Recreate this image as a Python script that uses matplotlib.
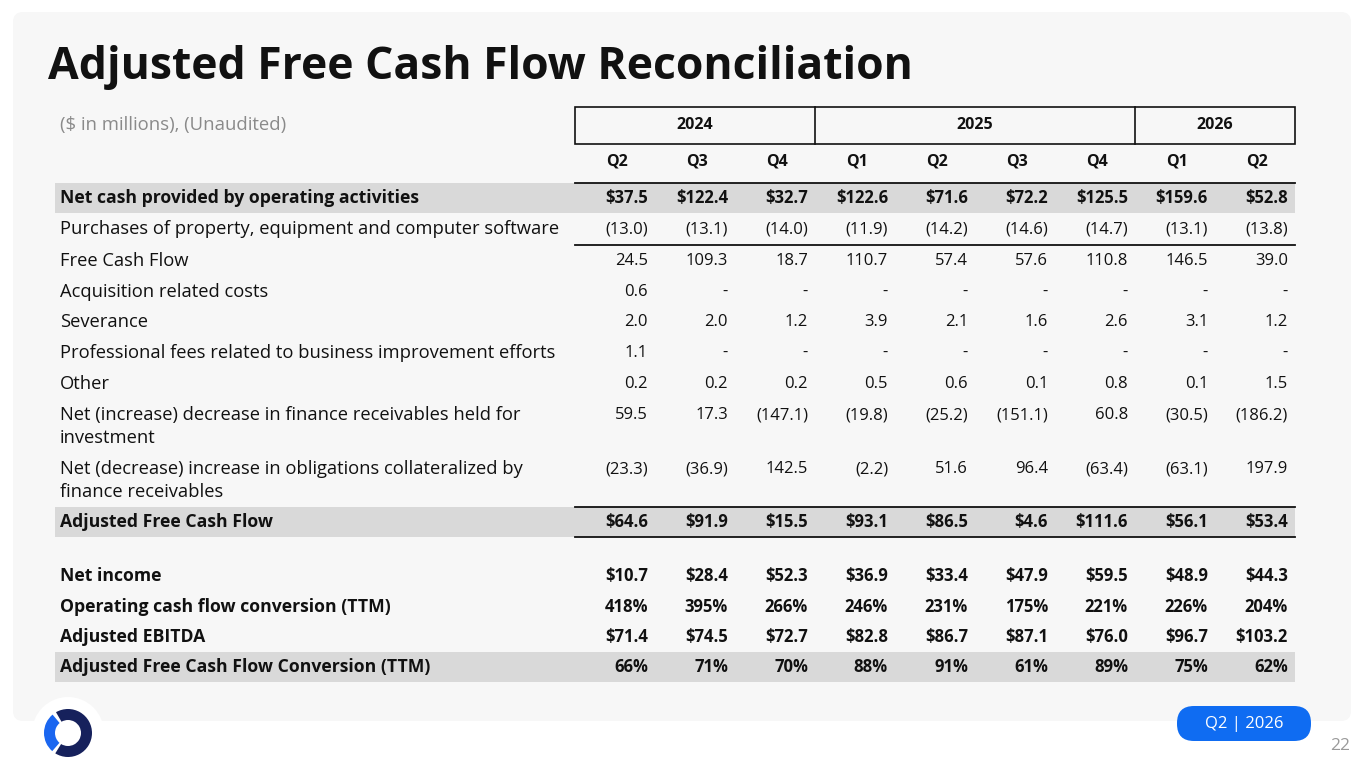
import matplotlib
matplotlib.use("Agg")
import matplotlib.pyplot as plt
from matplotlib.patches import FancyBboxPatch, Rectangle, Circle, Wedge

plt.rcParams['font.family'] = ['Open Sans', 'DejaVu Sans']

title = "Adjusted Free Cash Flow Reconciliation"
subtitle = "($ in millions), (Unaudited)"
years = ["2024", "2025", "2026"]
year_spans = [3, 4, 2]
quarters = ["Q2", "Q3", "Q4", "Q1", "Q2", "Q3", "Q4", "Q1", "Q2"]

net_cash = [37.5, 122.4, 32.7, 122.6, 71.6, 72.2, 125.5, 159.6, 52.8]
capex = [-13.0, -13.1, -14.0, -11.9, -14.2, -14.6, -14.7, -13.1, -13.8]
fcf = [24.5, 109.3, 18.7, 110.7, 57.4, 57.6, 110.8, 146.5, 39.0]
acquisition = [0.6, None, None, None, None, None, None, None, None]
severance = [2.0, 2.0, 1.2, 3.9, 2.1, 1.6, 2.6, 3.1, 1.2]
prof_fees = [1.1, None, None, None, None, None, None, None, None]
other = [0.2, 0.2, 0.2, 0.5, 0.6, 0.1, 0.8, 0.1, 1.5]
fin_receivables = [59.5, 17.3, -147.1, -19.8, -25.2, -151.1, 60.8, -30.5, -186.2]
obligations = [-23.3, -36.9, 142.5, -2.2, 51.6, 96.4, -63.4, -63.1, 197.9]
adj_fcf = [64.6, 91.9, 15.5, 93.1, 86.5, 4.6, 111.6, 56.1, 53.4]
net_income = [10.7, 28.4, 52.3, 36.9, 33.4, 47.9, 59.5, 48.9, 44.3]
ocf_conversion = [418, 395, 266, 246, 231, 175, 221, 226, 204]
adj_ebitda = [71.4, 74.5, 72.7, 82.8, 86.7, 87.1, 76.0, 96.7, 103.2]
adj_fcf_conversion = [66, 71, 70, 88, 91, 61, 89, 75, 62]

# label, values, format, bold, shaded, row centre (px)
rows = [
    ("Net cash provided by operating activities", net_cash, "usd", True, True, 198),
    ("Purchases of property, equipment and computer software", capex, "num", False, False, 229),
    ("Free Cash Flow", fcf, "num", False, False, 261),
    ("Acquisition related costs", acquisition, "num", False, False, 292),
    ("Severance", severance, "num", False, False, 322),
    ("Professional fees related to business improvement efforts", prof_fees, "num", False, False, 353),
    ("Other", other, "num", False, False, 384),
    ("Net (increase) decrease in finance receivables held for\ninvestment", fin_receivables, "num", False, False, 415),
    ("Net (decrease) increase in obligations collateralized by\nfinance receivables", obligations, "num", False, False, 469),
    ("Adjusted Free Cash Flow", adj_fcf, "usd", True, True, 522),
    ("Net income", net_income, "usd", True, False, 576),
    ("Operating cash flow conversion (TTM)", ocf_conversion, "pct", True, False, 607),
    ("Adjusted EBITDA", adj_ebitda, "usd", True, False, 637),
    ("Adjusted Free Cash Flow Conversion (TTM)", adj_fcf_conversion, "pct", True, True, 667),
]


def fmt(v, kind):
    if v is None:
        return "-"
    if kind == "pct":
        return "%d%%" % v
    if kind == "usd":
        return "$%.1f" % v
    if v < 0:
        return "(%.1f)" % -v
    return "%.1f" % v


W, H = 1365, 768
fig = plt.figure(figsize=(W / 100, H / 100), dpi=100)
ax = fig.add_axes([0, 0, 1, 1])
ax.set_xlim(0, W)
ax.set_ylim(H, 0)
ax.axis("off")

ink = "#111111"
band = "#d9d9d9"

ax.add_patch(FancyBboxPatch((13, 12), 1338, 709, boxstyle="round,pad=0,rounding_size=10",
                            fc="#f7f7f7", ec="none", zorder=0))

ax.text(48, 67, title, fontsize=32, fontweight="bold", color=ink, va="center", ha="left")
ax.text(60, 125, subtitle, fontsize=13.3, color="#8a8a8a", va="center", ha="left")

x0, cw = 575, 80
x_end = x0 + cw * len(quarters)
label_x = 60

# year header box
ax.add_patch(Rectangle((x0, 107), x_end - x0, 37, fill=False, ec=ink, lw=1.2, zorder=3))
c = 0
for yr, span in zip(years, year_spans):
    left = x0 + c * cw
    if c > 0:
        ax.plot([left, left], [107, 144], color=ink, lw=1.2, zorder=3)
    ax.text(left + span * cw / 2, 125, yr, fontsize=11.5, fontweight="bold", color=ink,
            ha="center", va="center")
    c += span

for i, q in enumerate(quarters):
    ax.text(x0 + cw * i + cw / 2 + 2, 161, q, fontsize=11.5, fontweight="bold", color=ink,
            ha="center", va="center")

row_h = 30
for label, vals, kind, bold, shaded, yc in rows:
    if shaded:
        ax.add_patch(Rectangle((55, yc - row_h / 2 - 0.5), x_end - 55, row_h, fc=band, ec="none", zorder=1))
    weight = "bold" if bold else "normal"
    lsize = 12.7 if bold else 13.2
    lines = label.split("\n")
    for k, line in enumerate(lines):
        ax.text(label_x, yc + k * 23, line, fontsize=lsize, fontweight=weight, color=ink,
                ha="left", va="center", zorder=2)
    for i, v in enumerate(vals):
        ax.text(x0 + cw * (i + 1) - 7, yc, fmt(v, kind), fontsize=12, fontweight=weight,
                color=ink, ha="right", va="center", zorder=2)

# rules over the numeric columns
for yl in [183, 245, 507, 537]:
    ax.plot([x0, x_end], [yl, yl], color=ink, lw=1.3, zorder=3)

# logo
ax.add_patch(Circle((68, 733), 36, fc="white", ec="none", zorder=4))
ax.add_patch(Wedge((68, 733), 24, -120, 122, width=11, fc="#16215c", ec="none", zorder=5))
ax.add_patch(Wedge((68, 733), 24, 131, 230, width=11, fc="#1a66f0", ec="none", zorder=5))

# date pill
ax.add_patch(FancyBboxPatch((1177, 706), 134, 35, boxstyle="round,pad=0,rounding_size=17",
                            fc="#0f6cf2", ec="none", zorder=4))
ax.text(1244, 723.5, "Q2 | 2026", fontsize=12, color="white", ha="center", va="center", zorder=5)
ax.text(1340, 746, "22", fontsize=12.5, color="#9a9a9a", ha="center", va="center")

fig.savefig("out.png", dpi=100, facecolor="white")
